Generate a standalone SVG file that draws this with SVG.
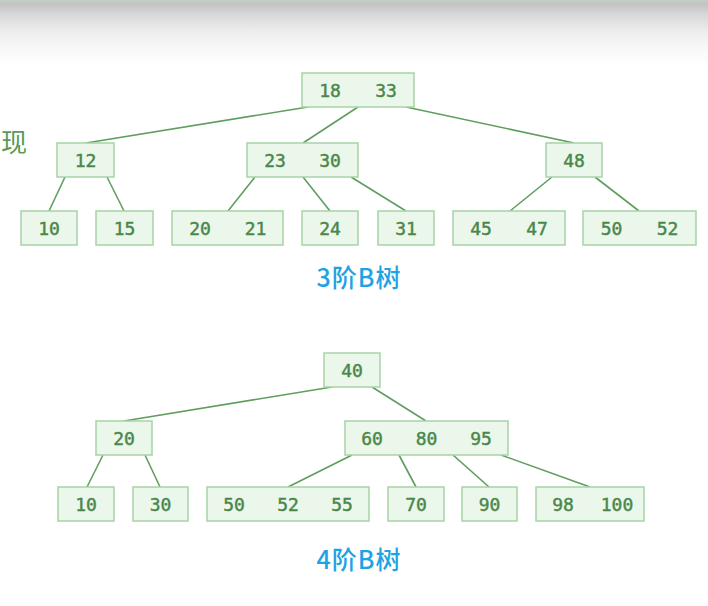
<svg xmlns="http://www.w3.org/2000/svg" width="708" height="606" viewBox="0 0 708 606">
<defs>
<linearGradient id="top" x1="0" y1="0" x2="0" y2="1">
<stop offset="0" stop-color="#c6d0c6"/>
<stop offset="0.06" stop-color="#c2c2c2"/>
<stop offset="0.2" stop-color="#d6d6d6"/>
<stop offset="0.45" stop-color="#ebebeb"/>
<stop offset="0.7" stop-color="#f7f7f7"/>
<stop offset="1" stop-color="#ffffff"/>
</linearGradient>
</defs>
<style>
.box{fill:#ebf7eb;stroke:#a6d3a6;stroke-width:1.5}
.k{font-family:"DejaVu Sans Mono","Liberation Mono",monospace;font-size:18px;fill:#4a874a;stroke:#4a874a;stroke-width:0.45;text-anchor:middle}
.e{stroke:#5f9e5f;stroke-width:1.6;fill:none}
.t{font-family:"Noto Sans CJK SC","Noto Sans",sans-serif;font-size:25px;font-weight:500;letter-spacing:1px;fill:#1ea3e4;text-anchor:middle}
</style>
<rect x="0" y="0" width="708" height="606" fill="#ffffff"/>
<rect x="0" y="0" width="708" height="66" fill="url(#top)"/>
<text x="27" y="152" font-family="Noto Sans CJK SC,sans-serif" font-size="26" fill="#5a9a5a" text-anchor="end">现</text>
<g id="connectors">
<line class="e" x1="308" y1="107" x2="86" y2="143"/>
<line class="e" x1="358" y1="107" x2="303" y2="143"/>
<line class="e" x1="406" y1="107" x2="574" y2="143"/>
<line class="e" x1="65" y1="177" x2="49" y2="211"/>
<line class="e" x1="107" y1="177" x2="124" y2="211"/>
<line class="e" x1="255" y1="177" x2="228" y2="211"/>
<line class="e" x1="303" y1="177" x2="330" y2="211"/>
<line class="e" x1="351" y1="177" x2="406" y2="211"/>
<line class="e" x1="552" y1="177" x2="510" y2="211"/>
<line class="e" x1="595" y1="177" x2="639" y2="211"/>
<line class="e" x1="332" y1="387" x2="124" y2="421"/>
<line class="e" x1="372" y1="387" x2="426" y2="421"/>
<line class="e" x1="103" y1="455" x2="87" y2="487"/>
<line class="e" x1="145" y1="455" x2="160" y2="487"/>
<line class="e" x1="352" y1="455" x2="288" y2="487"/>
<line class="e" x1="399" y1="455" x2="416" y2="487"/>
<line class="e" x1="453" y1="455" x2="489" y2="487"/>
<line class="e" x1="501" y1="455" x2="590" y2="487"/>
</g>
<g id="n18_33"><rect class="box" x="302" y="73" width="112" height="34"/><text class="k" x="330" y="97">18</text><text class="k" x="386" y="97">33</text></g>
<g id="n12"><rect class="box" x="57" y="143" width="57" height="34"/><text class="k" x="85.5" y="167">12</text></g>
<g id="n23_30"><rect class="box" x="247" y="143" width="111" height="34"/><text class="k" x="275" y="167">23</text><text class="k" x="330" y="167">30</text></g>
<g id="n48"><rect class="box" x="546" y="143" width="56" height="34"/><text class="k" x="574" y="167">48</text></g>
<g id="n10a"><rect class="box" x="21" y="211" width="56" height="34"/><text class="k" x="49" y="235">10</text></g>
<g id="n15"><rect class="box" x="96" y="211" width="57" height="34"/><text class="k" x="124.5" y="235">15</text></g>
<g id="n20_21"><rect class="box" x="172" y="211" width="111" height="34"/><text class="k" x="200" y="235">20</text><text class="k" x="255.5" y="235">21</text></g>
<g id="n24"><rect class="box" x="302" y="211" width="56" height="34"/><text class="k" x="330" y="235">24</text></g>
<g id="n31"><rect class="box" x="378" y="211" width="56" height="34"/><text class="k" x="406" y="235">31</text></g>
<g id="n45_47"><rect class="box" x="453" y="211" width="112" height="34"/><text class="k" x="481" y="235">45</text><text class="k" x="537" y="235">47</text></g>
<g id="n50_52"><rect class="box" x="583" y="211" width="113" height="34"/><text class="k" x="611.5" y="235">50</text><text class="k" x="667.5" y="235">52</text></g>
<text class="t" x="359" y="287">3阶B树</text>
<g id="n40"><rect class="box" x="324" y="353" width="56" height="34"/><text class="k" x="352" y="377">40</text></g>
<g id="n20"><rect class="box" x="96" y="421" width="56" height="34"/><text class="k" x="124" y="445">20</text></g>
<g id="n60_80_95"><rect class="box" x="345" y="421" width="163" height="34"/><text class="k" x="372" y="445">60</text><text class="k" x="426.5" y="445">80</text><text class="k" x="481" y="445">95</text></g>
<g id="n10b"><rect class="box" x="58" y="487" width="56" height="34"/><text class="k" x="86" y="511">10</text></g>
<g id="n30"><rect class="box" x="133" y="487" width="55" height="34"/><text class="k" x="160.5" y="511">30</text></g>
<g id="n50_52_55"><rect class="box" x="207" y="487" width="162" height="34"/><text class="k" x="234" y="511">50</text><text class="k" x="288" y="511">52</text><text class="k" x="342" y="511">55</text></g>
<g id="n70"><rect class="box" x="388" y="487" width="56" height="34"/><text class="k" x="416" y="511">70</text></g>
<g id="n90"><rect class="box" x="462" y="487" width="55" height="34"/><text class="k" x="489.5" y="511">90</text></g>
<g id="n98_100"><rect class="box" x="536" y="487" width="108" height="34"/><text class="k" x="563" y="511">98</text><text class="k" x="617" y="511">100</text></g>
<text class="t" x="359" y="569">4阶B树</text>
</svg>
